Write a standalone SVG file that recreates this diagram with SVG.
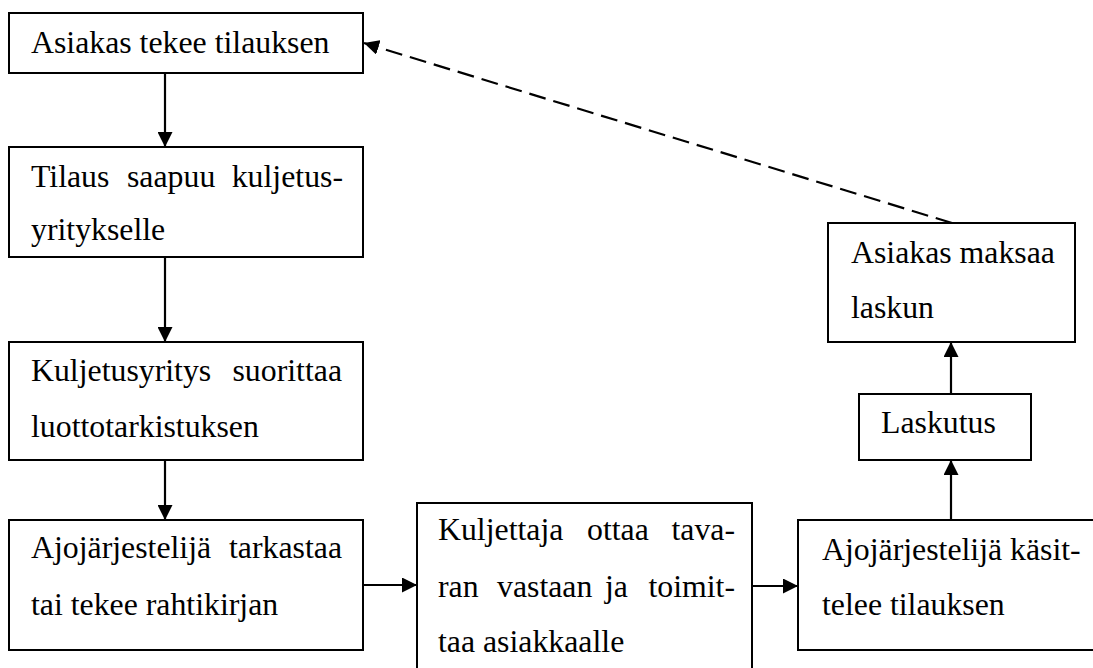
<svg xmlns="http://www.w3.org/2000/svg" width="1093" height="668" viewBox="0 0 1093 668">
<style>
.box{fill:#fff;stroke:#000;stroke-width:2}
text{font-family:'Liberation Serif','DejaVu Serif','Times New Roman',serif;font-size:31.8px;fill:#000}
.e{text-anchor:end}
.c{stroke:#000;stroke-width:2.2;fill:none}
.d{stroke-dasharray:17 8}
</style>
<defs>
<marker id="ah" markerUnits="userSpaceOnUse" markerWidth="16" markerHeight="15" refX="15" refY="7.5" orient="auto" viewBox="0 0 16 15">
<path d="M0,0 L15,7.5 L0,15 z" fill="#000"/>
</marker>
</defs>
<g id="n1"><rect class="box" x="9" y="13" width="354" height="60"/><text x="31" y="53">Asiakas tekee tilauksen</text></g>
<g id="n2"><rect class="box" x="9" y="147" width="354" height="110"/><text x="31" y="187">Tilaus</text><text x="127" y="187">saapuu</text><text class="e" x="343" y="187">kuljetus-</text><text x="31" y="240">yritykselle</text></g>
<g id="n3"><rect class="box" x="9" y="342" width="354" height="118"/><text x="31" y="381">Kuljetusyritys</text><text class="e" x="342" y="381">suorittaa</text><text x="31" y="437">luottotarkistuksen</text></g>
<g id="n4"><rect class="box" x="9" y="520" width="354" height="130"/><text x="31" y="558">Ajojärjestelijä</text><text class="e" x="342" y="558">tarkastaa</text><text x="31" y="615">tai tekee rahtikirjan</text></g>
<g id="n5"><rect class="box" x="417" y="503" width="335" height="200"/><text x="438" y="540">Kuljettaja</text><text x="587" y="540">ottaa</text><text class="e" x="735" y="540">tava-</text><text x="438" y="597">ran</text><text x="497" y="597">vastaan</text><text x="605" y="597">ja</text><text class="e" x="735" y="597">toimit-</text><text x="438" y="652">taa asiakkaalle</text></g>
<g id="n6"><rect class="box" x="798" y="520" width="320" height="130"/><text x="822" y="560">Ajojärjestelijä käsit-</text><text x="822" y="615">telee tilauksen</text></g>
<g id="n7"><rect class="box" x="859" y="394" width="172" height="66"/><text x="881" y="433">Laskutus</text></g>
<g id="n8"><rect class="box" x="828" y="223" width="247" height="119"/><text x="851" y="263">Asiakas maksaa</text><text x="851" y="318">laskun</text></g>
<g id="connectors">
<line class="c" x1="165" y1="73" x2="165" y2="147" marker-end="url(#ah)"/>
<line class="c" x1="165" y1="257" x2="165" y2="342" marker-end="url(#ah)"/>
<line class="c" x1="165" y1="460" x2="165" y2="520" marker-end="url(#ah)"/>
<line class="c" x1="363" y1="585" x2="417" y2="585" marker-end="url(#ah)"/>
<line class="c" x1="752" y1="586" x2="798" y2="586" marker-end="url(#ah)"/>
<line class="c" x1="951" y1="520" x2="951" y2="460" marker-end="url(#ah)"/>
<line class="c" x1="951" y1="394" x2="951" y2="342" marker-end="url(#ah)"/>
<line class="c d" x1="952" y1="223" x2="364" y2="43" marker-end="url(#ah)"/>
</g>
</svg>
